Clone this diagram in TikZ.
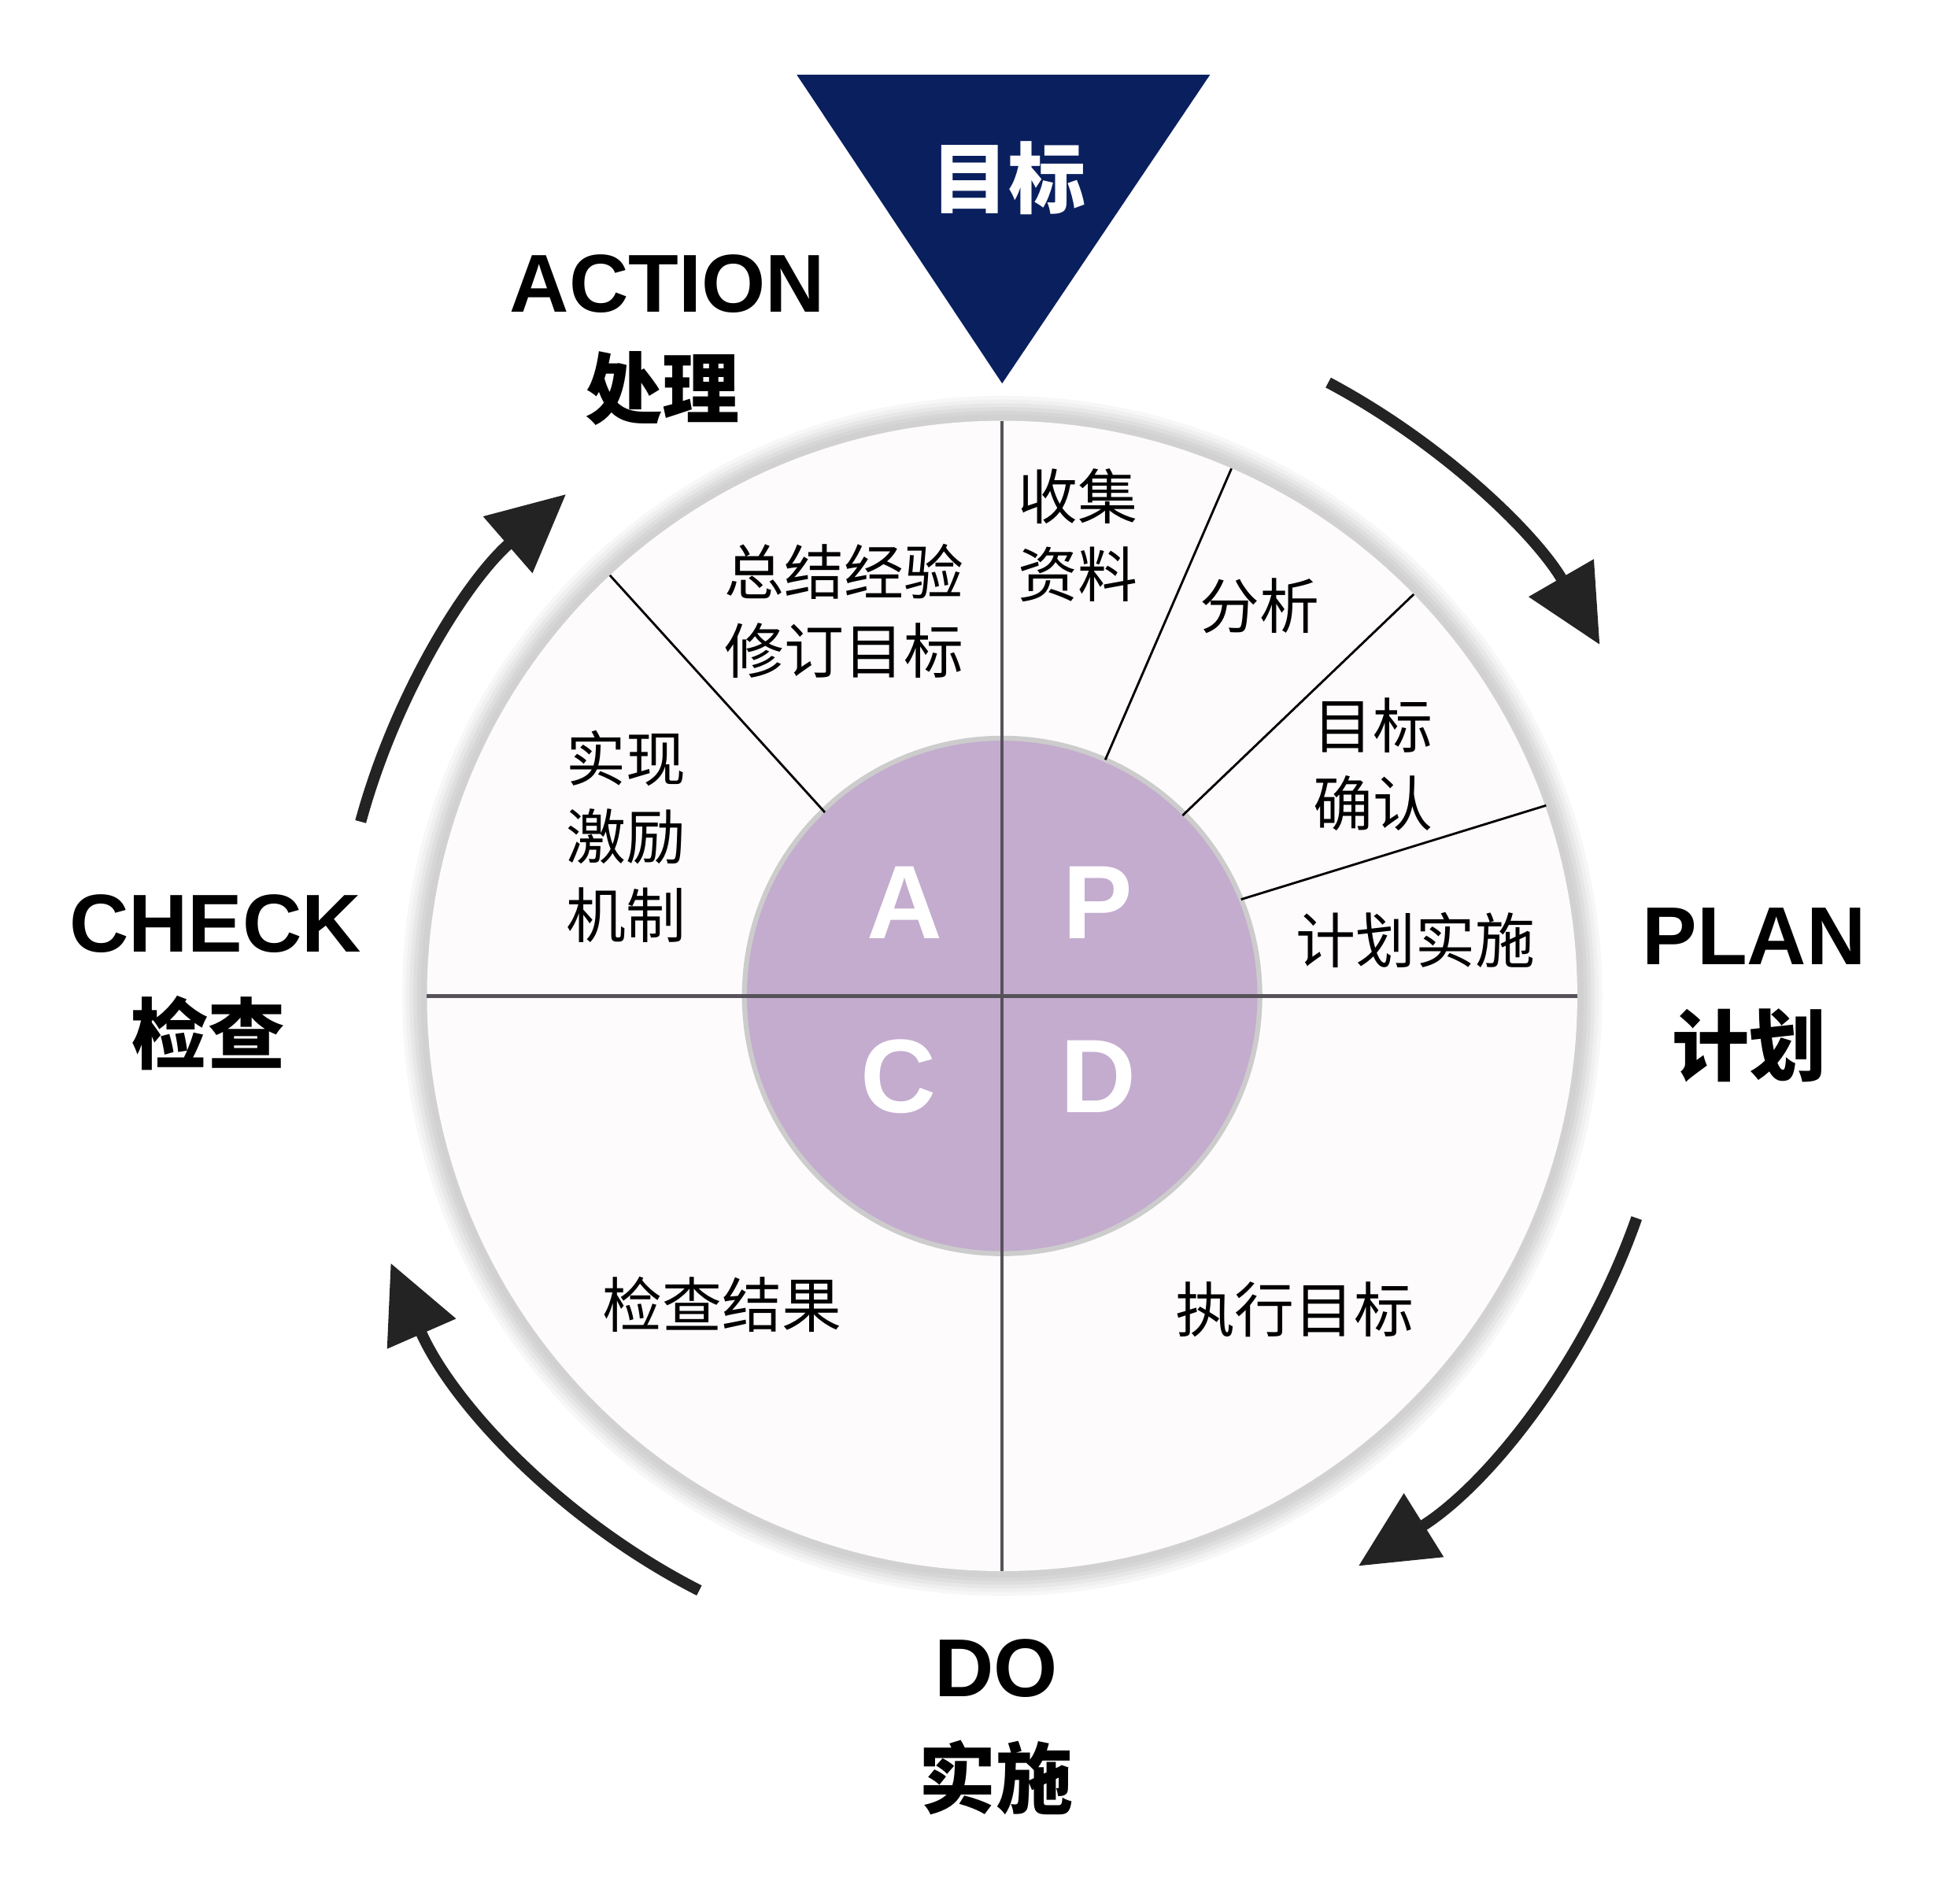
\documentclass[tikz,border=0pt]{standalone}
\usepackage{fontspec}
\setmainfont{Liberation Sans}
\newfontfamily\cjk{Noto Sans CJK SC}
\usetikzlibrary{arrows.meta}
\definecolor{navy}{HTML}{0A1F5E}
\definecolor{lilac}{HTML}{C3ACCE}
\definecolor{paper}{HTML}{FDFBFC}
\definecolor{ink}{HTML}{232323}
\definecolor{crossline}{HTML}{57525A}
\tikzset{
  cell/.style={font=\cjk\fontsize{48}{63}\selectfont, align=center, inner sep=0pt},
  letter/.style={font=\bfseries\fontsize{84}{84}\selectfont, text=white, inner sep=0pt},
  phase/.style={font=\bfseries\fontsize{66}{80}\selectfont, inner sep=0pt},
  phasecn/.style={font=\cjk\bfseries\fontsize{62}{70}\selectfont, inner sep=0pt},
  cycle/.style={ink, line width=9pt, -{Triangle[length=62pt,width=58pt]}},
}
\begin{document}
\begin{tikzpicture}[x=1pt, y=1pt]
  \useasboundingbox[fill=white] (-805,-729) rectangle (763,800);
  \foreach \r/\g in {482/6, 479/12, 476/19, 473/26, 470/32, 467/36}
    \fill[gray!\g] (0,0) circle[radius=\r pt];
  \fill[paper] (0,0) circle[radius=462pt];
  \fill[gray!40] (0,0) circle[radius=209pt];
  \fill[lilac] (0,0) circle[radius=205pt];

  \draw[line width=1.8pt] (66.4:207) -- (66.5:462);
  \draw[line width=1.8pt] (45:205) -- (44.3:462);
  \draw[line width=1.8pt] (22:207) -- (19.3:463);
  \draw[line width=1.8pt] (134:205) -- (133:462);
  \draw[crossline, line width=2.8pt] (-462,0) -- (462,0);
  \draw[crossline, line width=2.8pt] (0,462) -- (0,-462);

  \node[cell] (sj) at (61,370) {收集\\资料};
  \node[cell] (fx) at (207,313) {分析};
  \node[cell] (mq) at (298,186) {目标\\确认};
  \node[cell] (js) at (332,45) {计划实施};
  \node[cell] (zj) at (-127,309) {总结经验\\修订目标};
  \node[cell] (sx) at (-302,128) {实现\\激励\\机制};
  \node[cell] (jc) at (-225,-248) {检查结果};
  \node[cell] (zx) at (235,-252) {执行目标};

  \node[letter] (A) at (-78,75) {A};
  \node[letter] (P) at (77,75) {P};
  \node[letter] (C) at (-83,-65) {C};
  \node[letter] (D) at (77,-65) {D};

  \fill[navy] (-165,740) -- (167,740) -- (0,492) -- cycle;
  \node[phasecn, text=white] (goal) at (5,657) {目标};

  \node[phase] (act) at (-269,572) {ACTION};
  \node[phasecn] (actcn) at (-273,488) {处理};
  \node[phase] (chk) at (-632,58) {CHECK};
  \node[phasecn] (chkcn) at (-638,-30) {检查};
  \node[phase] (pln) at (604,48) {PLAN};
  \node[phasecn] (plncn) at (600,-40) {计划};
  \node[phase] (do) at (-5,-540) {DO};
  \node[phasecn] (docn) at (-5,-628) {实施};

  \draw[cycle] (62:558) arc[start angle=62, end angle=30, radius=550pt];
  \draw[cycle] (-19.3:540) arc[start angle=-19.3, end angle=-58, radius=540pt];
  \draw[cycle] (243:536) arc[start angle=243, end angle=203.6, radius=536pt];
  \draw[cycle] (164.8:534) arc[start angle=164.8, end angle=131, radius=534pt];
\end{tikzpicture}
\end{document}
